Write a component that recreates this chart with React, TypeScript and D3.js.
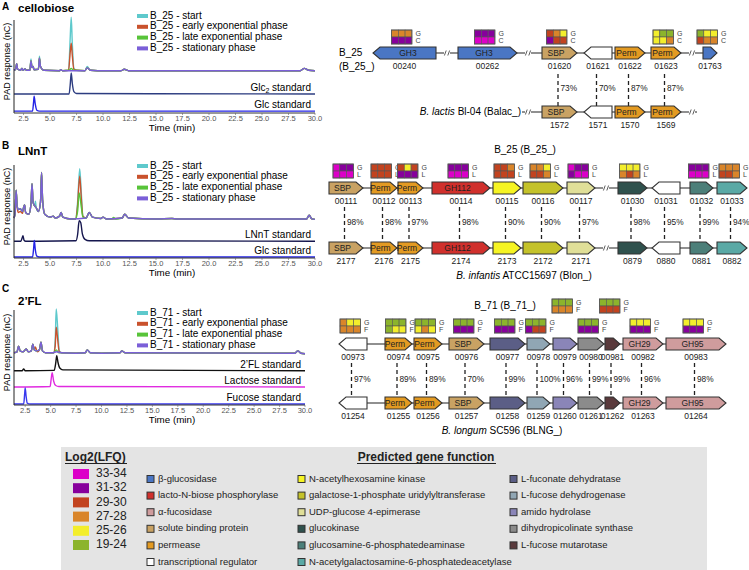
import React from 'react';
import * as d3 from 'd3';

const FONT = 'Liberation Sans, Arial, Helvetica, sans-serif';

// ---- chromatogram data: [time (min), response (relative)] ----
const timeTicks = [2.5, 5, 7.5, 10, 12.5, 15, 17.5, 20, 22.5, 25, 27.5, 30];
const phaseColors = ['#5ec9cc', '#c9522d', '#58c43a', '#7b5fd8'];
const phaseNames = ['start', 'early exponential phase', 'late exponential phase', 'stationary phase'];

const cellobioseStationary: [number, number][] = [
  [1.6, 46], [1.75, 47], [1.85, 53], [1.95, 47], [2.2, 46], [2.35, 48], [2.45, 46], [2.65, 47.5], [2.75, 46],
  [3.1, 46], [3.2, 56], [3.3, 49], [3.4, 50], [3.5, 46.5], [3.9, 47], [4.0, 59], [4.1, 50], [4.4, 46],
  [5.9, 45.5], [6.0, 46.5], [6.2, 45.5], [8.3, 45.5], [8.5, 48.5], [8.8, 46], [9.5, 45.5], [11.7, 45.5],
  [12.0, 47], [12.4, 45.5], [28.6, 45.5], [29.0, 48], [29.4, 46], [30, 45.5],
];
const cellobioseStartPeaks: [number, number][][] = [
  [[3.1, 46], [3.2, 58], [3.3, 49]],
  [[3.9, 47], [4.0, 61], [4.1, 50]],
  [[6.75, 46], [6.9, 80], [7.0, 103], [7.1, 75], [7.25, 48], [7.5, 46]],
  [[8.3, 45.5], [8.5, 50], [8.8, 46]],
];
const cellobioseEarlyPeaks: [number, number][][] = [
  [[6.75, 46], [6.9, 65], [7.0, 75], [7.1, 62], [7.25, 47], [7.5, 46]],
];
const cellobioseLatePeaks: [number, number][][] = [
  [[6.8, 46], [7.0, 48], [7.2, 46]],
];
const glc2Standard: [number, number][] = [
  [1.6, 20.5], [6.8, 20.5], [6.9, 30], [7.0, 43], [7.1, 32], [7.25, 23], [7.5, 21], [30, 20.5],
];
const glcStandardA: [number, number][] = [
  [1.6, 2], [3.35, 2], [3.45, 12], [3.5, 18], [3.6, 10], [3.75, 3], [4.0, 2], [30, 2],
];

const lnntStationary: [number, number][] = [
  [1.6, 43], [1.7, 48], [1.8, 73], [1.9, 56], [2.0, 52], [2.2, 53], [2.4, 50], [2.5, 54], [2.6, 57], [2.7, 49],
  [3.0, 47], [3.2, 58], [3.3, 80], [3.4, 60], [3.55, 56], [3.7, 54], [3.9, 50], [4.1, 60], [4.2, 92], [4.3, 62],
  [4.5, 47], [5.0, 44], [5.3, 45], [5.5, 43], [5.9, 45], [6.05, 49], [6.2, 44], [7.0, 42], [8.4, 43], [8.7, 49],
  [9.0, 44], [9.8, 42.5], [10.0, 44], [10.3, 42], [11.8, 43], [12.05, 47], [12.4, 43], [15, 42], [16.5, 42.5],
  [17, 42], [29.2, 42], [29.45, 46], [29.7, 42], [30, 41.5],
];
const lnntStartPeaks: [number, number][][] = [
  [[3.55, 56], [3.62, 61], [3.7, 54]],
  [[7.4, 42], [7.6, 60], [7.8, 96], [7.95, 70], [8.1, 45], [8.4, 43]],
];
const lnntEarlyPeaks: [number, number][][] = [
  [[1.9, 54], [2.0, 49], [2.2, 50], [2.4, 48]],
  [[7.4, 42], [7.6, 56], [7.8, 88], [7.95, 64], [8.1, 45], [8.4, 43]],
];
const lnntLatePeaks: [number, number][][] = [
  [[7.4, 42], [7.6, 50], [7.75, 70], [7.95, 55], [8.1, 44], [8.4, 43]],
  [[10.8, 42], [11.0, 43.5], [11.2, 42]],
];
const lnntStandard: [number, number][] = [
  [1.6, 18], [2.25, 18], [2.35, 21], [2.45, 24], [2.55, 19], [2.7, 18], [7.45, 18.5], [7.6, 25], [7.75, 40],
  [7.9, 38], [8.05, 26], [8.3, 20], [8.7, 18.5], [30, 18],
];
const glcStandardB: [number, number][] = [
  [1.6, 1], [3.35, 1], [3.45, 10], [3.52, 19], [3.6, 10], [3.75, 2], [4.0, 1], [30, 1],
];

const fl2Stationary: [number, number][] = [
  [1.4, 55], [1.7, 56], [1.85, 62], [2.0, 57], [2.3, 56], [2.6, 59], [2.8, 56], [3.1, 57], [3.25, 64], [3.4, 58],
  [3.6, 57], [3.9, 58], [4.05, 66], [4.2, 57], [4.5, 55], [5.2, 55], [5.6, 56], [6.0, 55], [7.5, 54.5],
  [8.4, 55], [8.6, 58], [8.9, 55], [10, 54.5], [11.8, 55], [12.0, 57], [12.3, 55], [29.0, 54.5], [29.3, 57],
  [29.6, 54.5], [30, 54],
];
const fl2StartPeaks: [number, number][][] = [
  [[5.3, 55], [5.45, 68], [5.55, 101], [5.7, 80], [5.85, 57], [6.1, 55]],
];
const fl2EarlyPeaks: [number, number][][] = [
  [[3.4, 58], [3.5, 61], [3.7, 56]],
  [[5.3, 55], [5.45, 62], [5.55, 82], [5.7, 68], [5.85, 56], [6.1, 55]],
];
const fl2LatePeaks: [number, number][][] = [
  [[5.3, 55], [5.55, 58], [5.8, 55]],
];
const fl2Standard: [number, number][] = [
  [1.4, 36], [2.2, 36], [2.35, 38], [2.5, 36], [5.35, 36.5], [5.5, 44], [5.6, 52], [5.72, 45], [5.9, 39],
  [6.2, 37], [30, 36],
];
const lactoseStandard: [number, number][] = [
  [1.4, 19], [4.95, 19.5], [5.05, 27], [5.15, 34], [5.3, 25], [5.5, 20.5], [5.8, 19.5], [30, 19],
];
const fucoseStandard: [number, number][] = [
  [1.4, 1], [2.35, 1], [2.45, 12], [2.5, 18], [2.58, 10], [2.7, 2], [3.0, 1], [30, 1],
];

// ---- log2(LFQ) levels and gene functions ----
const lfqLevels = [
  { code: 'M', label: '33-34', color: '#dc00c8' },
  { code: 'P', label: '31-32', color: '#87009c' },
  { code: 'R', label: '29-30', color: '#c2431f' },
  { code: 'O', label: '27-28', color: '#d9852a' },
  { code: 'Y', label: '25-26', color: '#f3ee2c' },
  { code: 'G', label: '19-24', color: '#8cb42c' },
];
const geneFunctions = [
  { key: 'bglu', label: 'β-glucosidase', color: '#4a76c4' },
  { key: 'lnbp', label: 'lacto-N-biose phosphorylase', color: '#d0302c' },
  { key: 'afuc', label: 'α-fucosidase', color: '#cf9c9d' },
  { key: 'sbp', label: 'solute binding protein', color: '#c9a263' },
  { key: 'perm', label: 'permease', color: '#e39a22' },
  { key: 'reg', label: 'transcriptional regulator', color: '#ffffff' },
  { key: 'nahk', label: 'N-acetylhexosamine kinase', color: '#f6f423' },
  { key: 'galt', label: 'galactose-1-phosphate uridylyltransferase', color: '#c4c22a' },
  { key: 'gale', label: 'UDP-glucose 4-epimerase', color: '#e0df98' },
  { key: 'glk', label: 'glucokinase', color: '#2f514d' },
  { key: 'nagb', label: 'glucosamine-6-phosphatedeaminase', color: '#4c7f79' },
  { key: 'naga', label: 'N-acetylgalactosamine-6-phosphatedeacetylase', color: '#5aa9a5' },
  { key: 'fucd', label: 'L-fuconate dehydratase', color: '#5b5e86' },
  { key: 'fucdh', label: 'L-fucose dehydrogenase', color: '#90a6b4' },
  { key: 'amid', label: 'amido hydrolase', color: '#8a85b8' },
  { key: 'dhps', label: 'dihydropicolinate synthase', color: '#8b8b8b' },
  { key: 'fucu', label: 'L-fucose mutarotase', color: '#5a3a3c' },
];

// ---- gene clusters: start/end on the cluster axis ----
type Gene = { id: string; s: number; e: number; dir: number; fn: string; name?: string; heat?: string; high?: boolean; pct?: string };

const genesA: Gene[] = [
  { id: '00240', s: 43, e: 106, dir: -1, fn: 'bglu', name: 'GH3', heat: 'OOO/PPP' },
  { id: '00262', s: 128, e: 187, dir: 1, fn: 'bglu', name: 'GH3', heat: 'PPP/MMM' },
  { id: '01620', s: 212, e: 247, dir: 1, fn: 'sbp', name: 'SBP', heat: 'ROY/PRR' },
  { id: '01621', s: 254, e: 282, dir: -1, fn: 'reg' },
  { id: '01622', s: 285, e: 315, dir: 1, fn: 'perm', name: 'Perm' },
  { id: '01623', s: 321, e: 351, dir: 1, fn: 'perm', name: 'Perm', heat: 'YGG/YYO' },
  { id: '01763', s: 373, e: 387, dir: 1, fn: 'bglu', heat: 'GYY/ROO' },
];
const genesBalac: Gene[] = [
  { id: '1572', s: 212, e: 247, dir: 1, fn: 'sbp', name: 'SBP', pct: '73%' },
  { id: '1571', s: 254, e: 282, dir: -1, fn: 'reg', pct: '70%' },
  { id: '1570', s: 285, e: 315, dir: 1, fn: 'perm', name: 'Perm', pct: '87%' },
  { id: '1569', s: 321, e: 351, dir: 1, fn: 'perm', name: 'Perm', pct: '87%' },
];
const genesB: Gene[] = [
  { id: '00111', s: -1, e: 33, dir: 1, fn: 'sbp', name: 'SBP', heat: 'MPP/MMM' },
  { id: '00112', s: 41, e: 67, dir: 1, fn: 'perm', name: 'Perm', heat: 'RRR/RRR' },
  { id: '00113', s: 68, e: 93, dir: 1, fn: 'perm', name: 'Perm', heat: 'RYR/PPP' },
  { id: '00114', s: 102, e: 160, dir: 1, fn: 'lnbp', name: 'GH112', heat: 'PPP/MMM' },
  { id: '00115', s: 163, e: 191, dir: 1, fn: 'nahk', heat: 'RRO/RRR' },
  { id: '00116', s: 193, e: 233, dir: 1, fn: 'galt', heat: 'OOY/RRO' },
  { id: '00117', s: 237, e: 265, dir: 1, fn: 'gale', heat: 'MPP/PMM' },
  { id: '01030', s: 288, e: 317, dir: 1, fn: 'glk', heat: 'YYY/ORO' },
  { id: '01031', s: 322, e: 350, dir: -1, fn: 'reg' },
  { id: '01032', s: 360, e: 383, dir: 1, fn: 'nagb', heat: 'PPP/MMM' },
  { id: '01033', s: 387, e: 417, dir: 1, fn: 'naga', heat: 'OOO/RRO' },
];
const genesBlon: Gene[] = [
  { id: '2177', s: -1, e: 33, dir: 1, fn: 'sbp', name: 'SBP', pct: '98%' },
  { id: '2176', s: 41, e: 67, dir: 1, fn: 'perm', name: 'Perm', pct: '98%' },
  { id: '2175', s: 68, e: 93, dir: 1, fn: 'perm', name: 'Perm', pct: '97%' },
  { id: '2174', s: 102, e: 160, dir: 1, fn: 'lnbp', name: 'GH112', pct: '98%' },
  { id: '2173', s: 163, e: 191, dir: 1, fn: 'nahk', pct: '90%' },
  { id: '2172', s: 193, e: 233, dir: 1, fn: 'galt', pct: '90%' },
  { id: '2171', s: 237, e: 265, dir: 1, fn: 'gale', pct: '97%' },
  { id: '0879', s: 288, e: 317, dir: 1, fn: 'glk', pct: '98%' },
  { id: '0880', s: 322, e: 350, dir: -1, fn: 'reg', pct: '95%' },
  { id: '0881', s: 360, e: 383, dir: 1, fn: 'nagb', pct: '99%' },
  { id: '0882', s: 387, e: 417, dir: 1, fn: 'naga', pct: '94%' },
];
const genesC: Gene[] = [
  { id: '00973', s: 9, e: 37, dir: -1, fn: 'reg', heat: 'OYY/OOO' },
  { id: '00974', s: 55, e: 82, dir: 1, fn: 'perm', name: 'Perm', heat: 'GGG/GYY' },
  { id: '00975', s: 84, e: 112, dir: 1, fn: 'perm', name: 'Perm', heat: 'GGG/YOY' },
  { id: '00976', s: 119, e: 154, dir: 1, fn: 'sbp', name: 'SBP', heat: 'GGG/PPP' },
  { id: '00977', s: 160, e: 195, dir: 1, fn: 'fucd', heat: 'GGG/PPP' },
  { id: '00978', s: 197, e: 220, dir: 1, fn: 'fucdh', heat: 'GGG/PRR' },
  { id: '00979', s: 223, e: 247, dir: 1, fn: 'amid', heat: 'GGG/OOO', high: true },
  { id: '00980', s: 248, e: 274, dir: 1, fn: 'dhps', heat: 'GGG/PPP' },
  { id: '00981', s: 275, e: 290, dir: 1, fn: 'fucu', heat: 'GGG/RRR', high: true },
  { id: '00982', s: 293, e: 333, dir: 1, fn: 'afuc', name: 'GH29', heat: 'YYY/PPP' },
  { id: '00983', s: 336, e: 396, dir: 1, fn: 'afuc', name: 'GH95', heat: 'YYY/PPP' },
];
const genesBLNG: Gene[] = [
  { id: '01254', s: 9, e: 37, dir: -1, fn: 'reg', pct: '97%' },
  { id: '01255', s: 55, e: 82, dir: 1, fn: 'perm', name: 'Perm', pct: '89%' },
  { id: '01256', s: 84, e: 112, dir: 1, fn: 'perm', name: 'Perm', pct: '89%' },
  { id: '01257', s: 119, e: 154, dir: 1, fn: 'sbp', name: 'SBP', pct: '70%' },
  { id: '01258', s: 160, e: 195, dir: 1, fn: 'fucd', pct: '99%' },
  { id: '01259', s: 197, e: 220, dir: 1, fn: 'fucdh', pct: '100%' },
  { id: '01260', s: 223, e: 247, dir: 1, fn: 'amid', pct: '96%' },
  { id: '01261', s: 248, e: 274, dir: 1, fn: 'dhps', pct: '99%' },
  { id: '01262', s: 275, e: 290, dir: 1, fn: 'fucu', pct: '99%' },
  { id: '01263', s: 293, e: 333, dir: 1, fn: 'afuc', name: 'GH29', pct: '96%' },
  { id: '01264', s: 336, e: 396, dir: 1, fn: 'afuc', name: 'GH95', pct: '98%' },
];

// replace base points inside each peak window by the peak points
function withPeaks(base: [number, number][], peaks: [number, number][][]) {
  let pts = base.slice();
  peaks.forEach(seg => {
    const lo = seg[0][0], hi = seg[seg.length - 1][0];
    pts = pts.filter(p => p[0] < lo || p[0] > hi).concat(seg);
  });
  return pts.sort((a, b) => a[0] - b[0]);
}

const fnColor: Record<string, string> = {};
geneFunctions.forEach(f => { fnColor[f.key] = f.color; });
const lfqColor: Record<string, string> = {};
lfqLevels.forEach(l => { lfqColor[l.code] = l.color; });

const panels = [
  {
    letter: 'A', title: 'cellobiose', strain: 'B_25', top: 20, bottom: 113, right: 315, tmin: 1.6, legendY: 16,
    letterY: 10, titleY: 11.5,
    samples: [
      withPeaks(cellobioseStationary, cellobioseStartPeaks),
      withPeaks(cellobioseStationary, cellobioseEarlyPeaks),
      withPeaks(cellobioseStationary, cellobioseLatePeaks),
      cellobioseStationary,
    ],
    standards: [
      { label: 'Glc', sub: '2', pts: glc2Standard, color: '#2c3c80' },
      { label: 'Glc', pts: glcStandardA, color: '#2424e6' },
    ],
  },
  {
    letter: 'B', title: 'LNnT', strain: 'B_25', top: 165, bottom: 258, right: 315, tmin: 1.6, legendY: 166,
    letterY: 149, titleY: 155,
    samples: [
      withPeaks(lnntStationary, lnntStartPeaks),
      withPeaks(lnntStationary, lnntEarlyPeaks),
      withPeaks(lnntStationary, lnntLatePeaks),
      lnntStationary,
    ],
    standards: [
      { label: 'LNnT', pts: lnntStandard, color: '#15164e' },
      { label: 'Glc', pts: glcStandardB, color: '#2424e6' },
    ],
  },
  {
    letter: 'C', title: '2’FL', strain: 'B_71', top: 310, bottom: 405, right: 305, tmin: 1.4, legendY: 313,
    letterY: 292, titleY: 305,
    samples: [
      withPeaks(fl2Stationary, fl2StartPeaks),
      withPeaks(fl2Stationary, fl2EarlyPeaks),
      withPeaks(fl2Stationary, fl2LatePeaks),
      fl2Stationary,
    ],
    standards: [
      { label: '2’FL', pts: fl2Standard, color: '#111111' },
      { label: 'Lactose', pts: lactoseStandard, color: '#e02ae0' },
      { label: 'Fucose', pts: fucoseStandard, color: '#3838ee' },
    ],
  },
];

function Chromatogram({ p }: { p: any }) {
  const x = d3.scaleLinear().domain([p.tmin, 30]).range([14, p.right]);
  const y = d3.scaleLinear().domain([0, 100]).range([p.bottom, p.top]);
  const line = d3.line<[number, number]>().x(d => x(d[0])).y(d => y(d[1])).curve(d3.curveMonotoneX);
  return (
    <g fontFamily={FONT}>
      <text x={2} y={p.letterY} fontSize={10} fontWeight="bold">{p.letter}</text>
      <text x={18} y={p.titleY} fontSize={11.5} fontWeight="bold">{p.title}</text>
      <text transform={`translate(10,${(p.top + p.bottom) / 2 - 5}) rotate(-90)`} fontSize={9} textAnchor="middle">PAD response (nC)</text>
      {p.standards.map((s: any, i: number) => (
        <g key={'s' + i}>
          <path d={line(s.pts) || ''} fill="none" stroke={s.color} strokeWidth={1.4} />
          <text x={p.right - 4} y={y(s.pts[0][1]) - 3} fontSize={10} textAnchor="end">
            {s.label}
            {s.sub ? <tspan dy={2.5} fontSize={7}>{s.sub}</tspan> : null}
            <tspan dy={s.sub ? -2.5 : 0}> standard</tspan>
          </text>
        </g>
      ))}
      {p.samples.map((pts: [number, number][], i: number) => (
        <path key={'p' + i} d={line(pts) || ''} fill="none" stroke={phaseColors[i]} strokeWidth={1.4} />
      ))}
      {phaseNames.map((n, i) => (
        <g key={'l' + i}>
          <rect x={137} y={p.legendY + i * 10.8 - 2} width={11} height={4} fill={phaseColors[i]} />
          <text x={150} y={p.legendY + i * 10.8} fontSize={10} dominantBaseline="middle">{`${p.strain} - ${n}`}</text>
        </g>
      ))}
      <line x1={14} x2={14} y1={p.top} y2={p.bottom} stroke="#222" strokeWidth={1} />
      <line x1={14} x2={p.right} y1={p.bottom} y2={p.bottom} stroke="#333" strokeWidth={1} />
      {timeTicks.map(t => (
        <g key={t}>
          <line x1={x(t)} x2={x(t)} y1={p.bottom} y2={p.bottom + 2} stroke="#666" strokeWidth={0.6} />
          <text x={x(t)} y={p.bottom + 6.5} fontSize={7.5} fill="#555" textAnchor="middle" dominantBaseline="middle">{t.toFixed(1)}</text>
        </g>
      ))}
      <text x={172} y={p.bottom + 15.5} fontSize={9.8} textAnchor="middle" dominantBaseline="middle">Time (min)</text>
    </g>
  );
}

const gx = d3.scaleLinear().domain([0, 420]).range([330, 750]);

function arrowPath(x0: number, x1: number, yc: number, h: number, dir: number) {
  const head = Math.min(7, (x1 - x0) * 0.45);
  const t = yc - h / 2, b = yc + h / 2;
  if (dir > 0) return `M${x0},${t}L${x1 - head},${t}L${x1},${yc}L${x1 - head},${b}L${x0},${b}Z`;
  return `M${x1},${t}L${x0 + head},${t}L${x0},${yc}L${x0 + head},${b}L${x1},${b}Z`;
}

function GeneRow({ genes, yc, span, breaks }: { genes: Gene[]; yc: number; span: number[]; breaks: number[] }) {
  return (
    <g fontFamily={FONT}>
      <line x1={gx(span[0])} x2={gx(span[1])} y1={yc} y2={yc} stroke="#222" strokeWidth={1.2} />
      {breaks.map(b => (
        <g key={b}>
          <rect x={gx(b) - 3} y={yc - 2} width={6} height={4} fill="#fff" />
          <line x1={gx(b) - 2.6} y1={yc + 2.5} x2={gx(b) - 0.8} y2={yc - 2.5} stroke="#333" strokeWidth={0.8} />
          <line x1={gx(b) + 0.8} y1={yc + 2.5} x2={gx(b) + 2.6} y2={yc - 2.5} stroke="#333" strokeWidth={0.8} />
        </g>
      ))}
      {genes.map(g => {
        const x0 = gx(g.s), x1 = gx(g.e);
        const head = Math.min(7, (x1 - x0) * 0.45);
        const cx = g.dir > 0 ? (x0 + x1 - head) / 2 : (x0 + head + x1) / 2;
        return (
          <g key={g.id}>
            <path d={arrowPath(x0, x1, yc, 12, g.dir)} fill={fnColor[g.fn]} stroke="#333" strokeWidth={1.1} />
            {g.name ? <text x={cx} y={yc + 0.5} fontSize={8.5} fill="#222" textAnchor="middle" dominantBaseline="middle">{g.name}</text> : null}
            <text x={(x0 + x1) / 2} y={yc + 14} fontSize={8.5} fill="#222" textAnchor="middle" dominantBaseline="middle">{g.id}</text>
          </g>
        );
      })}
    </g>
  );
}

function Heatmaps({ genes, y, letters }: { genes: Gene[]; y: number; letters: string[] }) {
  const cw = 6.8, ch = 7;
  return (
    <g fontFamily={FONT}>
      {genes.filter(g => g.heat).map(g => {
        const hx = (gx(g.s) + gx(g.e)) / 2 - 13;
        const hy = g.high ? y - 20 : y;
        const rows = (g.heat as string).split('/');
        return (
          <g key={g.id}>
            {rows.map((r, ri) => r.split('').map((c, ci) => (
              <rect key={ri + '-' + ci} x={hx + ci * cw} y={hy + ri * ch} width={cw} height={ch}
                fill={lfqColor[c]} stroke="#555" strokeWidth={0.6} />
            )))}
            <rect x={hx} y={hy} width={cw * 3} height={ch * 2} fill="none" stroke="#555" strokeWidth={0.8} />
            {letters.map((l, li) => (
              <text key={l} x={hx + 24} y={hy + li * ch + 3.8} fontSize={7} fill="#444" dominantBaseline="middle">{l}</text>
            ))}
          </g>
        );
      })}
    </g>
  );
}

function Links({ genes, y1, y2 }: { genes: Gene[]; y1: number; y2: number }) {
  return (
    <g fontFamily={FONT}>
      {genes.map(g => {
        const cx = (gx(g.s) + gx(g.e)) / 2 - 1.5;
        return (
          <g key={g.id}>
            <line x1={cx} x2={cx} y1={y1} y2={y2} stroke="#222" strokeWidth={1.3} strokeDasharray="4,3" />
            <text x={cx + 2.5} y={(y1 + y2) / 2 - 1} fontSize={8.3} fill="#222" dominantBaseline="middle">{g.pct}</text>
          </g>
        );
      })}
    </g>
  );
}

function Legend() {
  const columns = [
    { items: geneFunctions.slice(0, 6), x: 147 },
    { items: geneFunctions.slice(6, 12), x: 298 },
    { items: geneFunctions.slice(12), x: 510 },
  ];
  return (
    <g fontFamily={FONT}>
      <rect x={61} y={447} width={646} height={123} fill="#e4e4e4" />
      <text x={65} y={461} fontSize={12} fontWeight="bold" fill="#222">Log2(LFQ)</text>
      <line x1={65} x2={127} y1={463.5} y2={463.5} stroke="#222" strokeWidth={1} />
      {lfqLevels.map((l, i) => (
        <g key={l.code}>
          <rect x={73} y={469 + i * 14.2} width={16} height={10} fill={l.color} />
          <text x={96} y={474 + i * 14.2} fontSize={12} fill="#222" dominantBaseline="middle">{l.label}</text>
        </g>
      ))}
      <text x={426} y={461} fontSize={12} fontWeight="bold" fill="#222" textAnchor="middle">Predicted gene function</text>
      <line x1={357} x2={496} y1={463.5} y2={463.5} stroke="#222" strokeWidth={1} />
      {columns.map(c => c.items.map((f, i) => {
        const yy = 479 + i * 16.6;
        return (
          <g key={f.key}>
            <rect x={c.x} y={yy - 3.5} width={7} height={7} fill={f.color} stroke="#333" strokeWidth={1} />
            <text x={c.x + 11} y={yy} fontSize={9.5} fill="#222" dominantBaseline="middle">{f.label}</text>
          </g>
        );
      }))}
    </g>
  );
}

export default function App() {
  return (
    <svg width={749} height={570} viewBox="0 0 749 570"
      style={{ position: 'absolute', left: 0, top: 0, background: '#fff' }}>
      <rect x={0} y={0} width={749} height={570} fill="#fff" />
      {panels.map(p => <Chromatogram key={p.letter} p={p} />)}

      {/* A: cellobiose cluster */}
      <g fontFamily={FONT}>
        <text x={339} y={53} fontSize={10} dominantBaseline="middle">B_25</text>
        <text x={339} y={67} fontSize={10} dominantBaseline="middle">(B_25_)</text>
        <text x={521} y={112} fontSize={10} textAnchor="end" dominantBaseline="middle">
          <tspan fontStyle="italic">B. lactis</tspan> Bl-04 (Balac_)
        </text>
      </g>
      <Links genes={genesBalac} y1={74} y2={106} />
      <GeneRow genes={genesA} yc={53} span={[43, 387]} breaks={[117, 198, 362]} />
      <GeneRow genes={genesBalac} yc={112} span={[192, 367]} breaks={[198, 362]} />
      <Heatmaps genes={genesA} y={30} letters={['G', 'C']} />

      {/* B: LNnT cluster */}
      <text x={525} y={150} fontSize={10} fontFamily={FONT} textAnchor="middle" dominantBaseline="middle">B_25 (B_25_)</text>
      <Links genes={genesBlon} y1={207} y2={241} />
      <GeneRow genes={genesB} yc={188} span={[-1, 417]} breaks={[276]} />
      <GeneRow genes={genesBlon} yc={248} span={[-1, 417]} breaks={[276]} />
      <Heatmaps genes={genesB} y={164} letters={['G', 'L']} />
      <text x={524} y={276} fontSize={10} fontFamily={FONT} textAnchor="middle" dominantBaseline="middle">
        <tspan fontStyle="italic">B. infantis</tspan> ATCC15697 (Blon_)
      </text>

      {/* C: 2'FL cluster */}
      <text x={505} y={306} fontSize={10} fontFamily={FONT} textAnchor="middle" dominantBaseline="middle">B_71 (B_71_)</text>
      <Links genes={genesBLNG} y1={363} y2={398} />
      <GeneRow genes={genesC} yc={344} span={[9, 396]} breaks={[]} />
      <GeneRow genes={genesBLNG} yc={403} span={[9, 396]} breaks={[]} />
      <Heatmaps genes={genesC} y={319} letters={['G', 'F']} />
      <text x={502} y={431} fontSize={10} fontFamily={FONT} textAnchor="middle" dominantBaseline="middle">
        <tspan fontStyle="italic">B. longum</tspan> SC596 (BLNG_)
      </text>

      <Legend />
    </svg>
  );
}
